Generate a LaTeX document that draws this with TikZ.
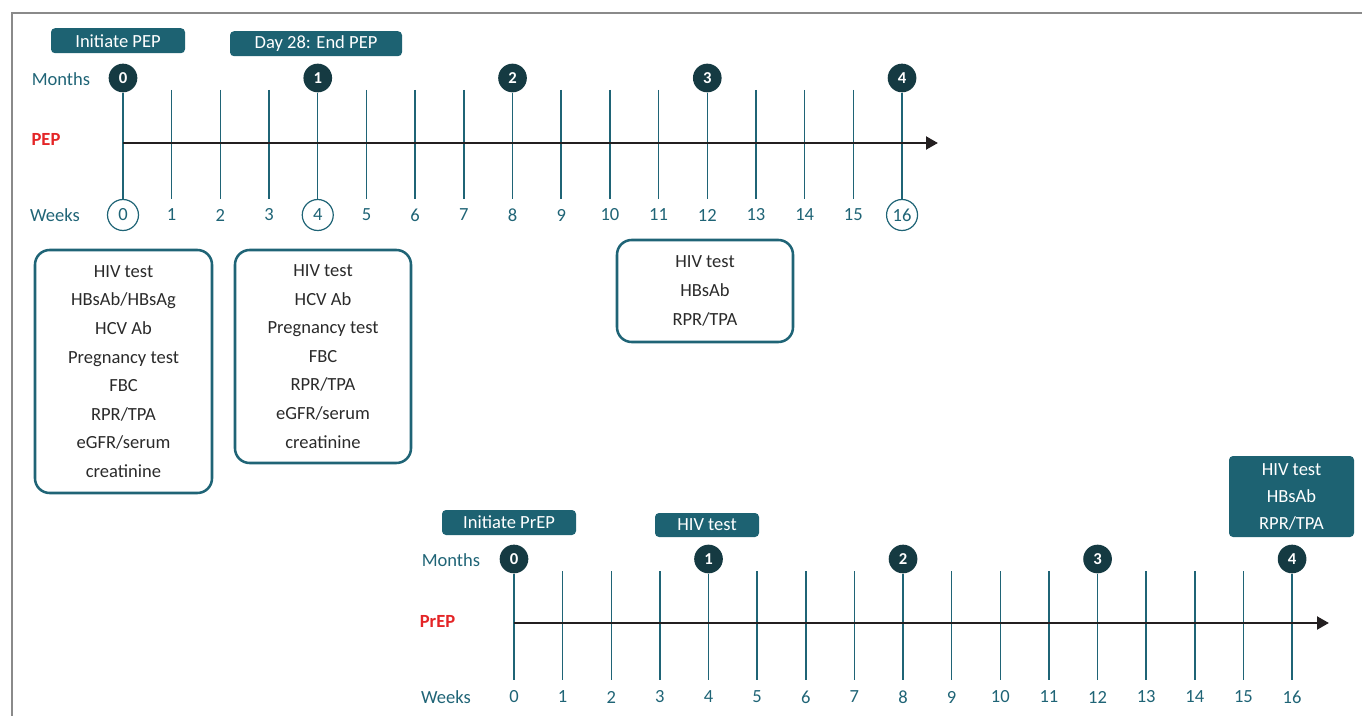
\documentclass[tikz,border=0pt]{standalone}
\usepackage{fontspec}
\setmainfont{Carlito}
\usetikzlibrary{arrows.meta,backgrounds}
\definecolor{tealc}{HTML}{1F6476}
\definecolor{tagc}{HTML}{1D6272}
\definecolor{darkc}{HTML}{153A42}
\definecolor{redc}{HTML}{E42527}
\definecolor{axisc}{HTML}{231F20}
\definecolor{framec}{HTML}{8A8A8A}
\definecolor{txtc}{HTML}{2A2A2A}
\newcommand\tfs{\fontsize{13.9}{16}\selectfont}
\newcommand\bxfs{\fontsize{13.9}{21.45}\selectfont}
\newcommand\tgfs{\fontsize{13.9}{20.25}\selectfont}
\newcommand\mfs{\fontsize{12.5}{14}\selectfont\bfseries}
\begin{document}
\begin{tikzpicture}[x=0.75pt,y=-0.75pt,
  tickln/.style={draw=tealc, line width=1.1pt},
  axisln/.style={draw=axisc, line width=2.2pt, -{Triangle[length=9pt,width=9.5pt]}},
  monthc/.style={circle, fill=darkc, text=white, font=\mfs, minimum size=21.5pt, inner sep=0pt},
  weekn/.style={circle, fill=white, line width=0.9pt, text=tealc, font=\tfs, minimum size=23.25pt, inner sep=0pt},
  weekb/.style={rectangle, text=tealc, font=\tfs, minimum height=25.5pt, inner sep=0pt},
  rowlbl/.style={text=tealc, font=\tfs, inner sep=0pt},
  redlbl/.style={text=redc, font=\tfs\bfseries, inner sep=0pt},
  tagbox/.style={fill=tagc, text=white, font=\tfs, rounded corners=3pt, inner sep=0pt, minimum height=18.75pt},
  testbox/.style={draw=tealc, line width=1.9pt, rounded corners=11pt, text=txtc, font=\bxfs, align=center, inner sep=0pt},
  framel/.style={draw=framec, line width=1pt}
]
\useasboundingbox (0,0) rectangle (1362,716);
\draw[framel] (12,716) -- (12,13) -- (1362,13);

% ---------------- PEP timeline ----------------
\node[rowlbl] (pmonths) at (61,79) {Months};
\node[redlbl] (plabel) at (46,139) {PEP};
\node[rowlbl] (pweeks) at (55,215.5) {Weeks};

\foreach \i in {0,...,16}{
  \pgfmathsetmacro\xx{123+48.69*\i}
  \ifnum\i=0 \def\dc{tealc}\else\ifnum\i=4 \def\dc{tealc}\else\ifnum\i=16 \def\dc{tealc}\else\def\dc{none}\fi\fi\fi
  \node[weekn, draw=\dc] (wt\i) at (\xx,215) {\i};
  \coordinate (tt\i) at (\xx,90);
}
\foreach \j in {0,...,4}{
  \pgfmathsetmacro\xx{123+48.69*4*\j}
  \node[monthc] (mt\j) at (\xx,78) {\j};
}
\coordinate (pstart) at (123,143);
\coordinate (pend) at (938,143);
\begin{pgfonlayer}{background}
  \foreach \i in {1,2,3,5,6,7,9,10,11,13,14,15}{
    \draw[tickln] (tt\i) -- (wt\i.north);
  }
  \foreach \j in {0,...,4}{
    \pgfmathtruncatemacro\w{4*\j}
    \draw[tickln] (mt\j) -- (wt\w.north);
  }
  \draw[axisln] (pstart) -- (pend);
\end{pgfonlayer}

\node[tagbox, minimum width=100.5pt] (tinit) at (118,40.7) {Initiate PEP};
\node[tagbox, minimum width=129pt] (tend) at (316,43.7) {Day 28: End PEP};

\node[testbox, minimum width=132.75pt, minimum height=182.25pt] (box1) at (123.5,371.5)
  {HIV test\\HBsAb/HBsAg\\HCV Ab\\Pregnancy test\\FBC\\RPR/TPA\\eGFR/serum\\creatinine};
\node[testbox, minimum width=132pt, minimum height=159.75pt] (box2) at (323,356.5)
  {HIV test\\HCV Ab\\Pregnancy test\\FBC\\RPR/TPA\\eGFR/serum\\creatinine};
\node[testbox, minimum width=132pt, minimum height=76.5pt] (box3) at (705,291)
  {HIV test\\HBsAb\\RPR/TPA};

% ---------------- PrEP timeline ----------------
\node[rowlbl] (bmonths) at (451,560.5) {Months};
\node[redlbl] (blabel) at (437.5,621) {PrEP};
\node[rowlbl] (bweeks) at (446,697.5) {Weeks};

\foreach \i in {0,...,16}{
  \pgfmathsetmacro\xx{514+48.63*\i}
  \node[weekb] (wb\i) at (\xx,697) {\i};
  \coordinate (tb\i) at (\xx,571);
}
\foreach \j in {0,...,4}{
  \pgfmathsetmacro\xx{514+48.63*4*\j}
  \node[monthc] (mb\j) at (\xx,559) {\j};
}
\coordinate (bstart) at (514,623);
\coordinate (bend) at (1329,623);
\begin{pgfonlayer}{background}
  \foreach \i in {1,2,3,5,6,7,9,10,11,13,14,15}{
    \draw[tickln] (tb\i) -- (wb\i.north);
  }
  \foreach \j in {0,...,4}{
    \pgfmathtruncatemacro\w{4*\j}
    \draw[tickln] (mb\j) -- (wb\w.north);
  }
  \draw[axisln] (bstart) -- (bend);
\end{pgfonlayer}

\node[tagbox, minimum width=100.5pt] (tprep) at (509,522.5) {Initiate PrEP};
\node[tagbox, minimum width=78pt, minimum height=18pt] (thiv) at (707,525) {HIV test};
\node[tagbox, font=\tgfs, align=center, minimum width=93.75pt, minimum height=60.75pt] (tfour) at (1291.5,496.5)
  {HIV test\\HBsAb\\RPR/TPA};
\end{tikzpicture}
\end{document}
